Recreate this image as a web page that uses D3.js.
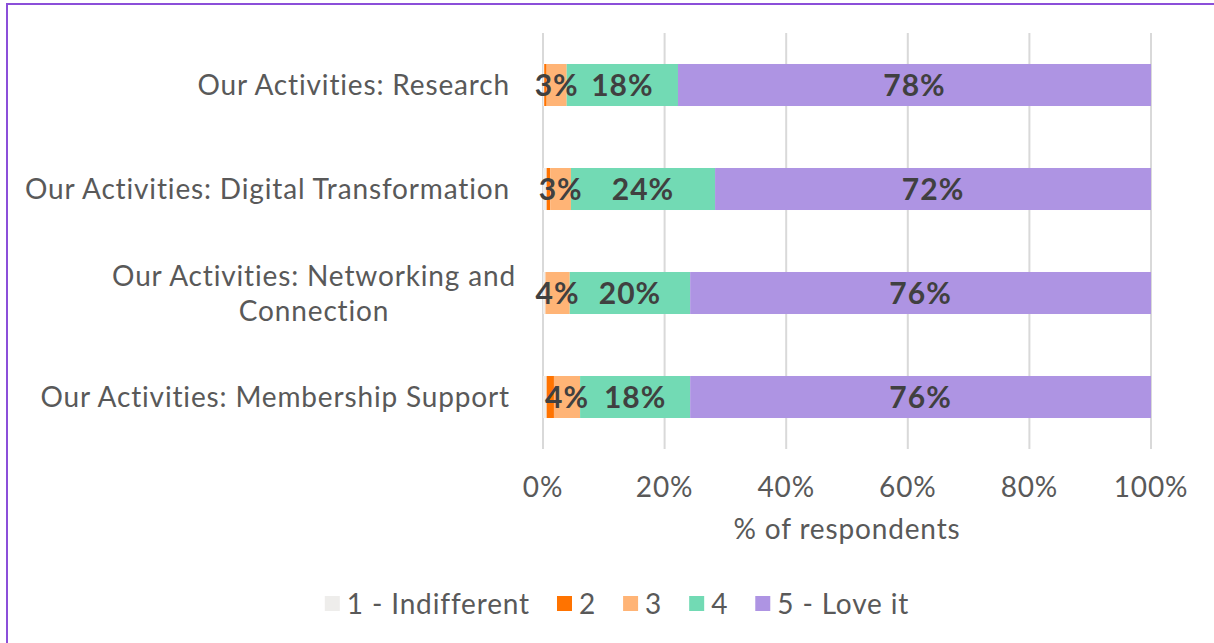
<!DOCTYPE html>
<html>
<head>
<meta charset="utf-8">
<script src="https://cdn.jsdelivr.net/npm/d3@7"></script>
<style>
  html, body { margin: 0; padding: 0; background: #fff; }
  svg { display: block; font-family: Lato, "Open Sans", sans-serif; }
</style>
</head>
<body>
<div id="chart"></div>
<script>
// categories, top to bottom
var categories = ["Our Activities: Research",
                  "Our Activities: Digital Transformation",
                  "Our Activities: Networking and\nConnection",
                  "Our Activities: Membership Support"];

// series (share of respondents, %)
var seriesNames = ["1 - Indifferent", "2", "3", "4", "5 - Love it"];
var s1 = [0.2, 0.6, 0.4, 0.6];
var s2 = [0.4, 0.6, 0.0, 1.2];
var s3 = [3.3, 3.4, 4.0, 4.3];
var s4 = [18.3, 23.7, 19.8, 18.1];
var s5 = [77.8, 71.7, 75.8, 75.8];
var colors = ["#eeedeb", "#ff7300", "#ffb476", "#72dab4", "#ae94e3"];
var labelled = [false, false, true, true, true];

var xTicks = [0, 0.2, 0.4, 0.6, 0.8, 1];

var W = 1214, H = 643;
var fs = 28, ls = "0.85px";  //text size and tracking
var svg = d3.select("#chart").append("svg")
    .attr("width", W).attr("height", H);

// frame (runs past the right and bottom edges)
svg.append("rect")
    .attr("x", 7).attr("y", 4).attr("width", W + 20).attr("height", H + 20)
    .attr("fill", "none").attr("stroke", "#8b4fd9").attr("stroke-width", 2);

var x = d3.scaleLinear().domain([0, 1]).range([543, 1151]);
var y = d3.scaleBand().domain(categories).range([33, 449])
    .paddingInner(0.596).paddingOuter(0.298);

// gridlines
svg.append("g").selectAll("line").data(xTicks).join("line")
    .attr("x1", function (d) { return x(d); })
    .attr("x2", function (d) { return x(d); })
    .attr("y1", 33).attr("y2", 449)
    .attr("stroke", "#d9d9d9").attr("stroke-width", 2);

// stack
var rows = categories.map(function (c, i) {
    return {cat: c, v: [s1[i], s2[i], s3[i], s4[i], s5[i]]};
});
var segs = [];
rows.forEach(function (r) {
    var acc = 0;
    r.v.forEach(function (v, k) {
        segs.push({cat: r.cat, k: k, v: v, x0: acc / 100, x1: (acc + v) / 100});
        acc += v;
    });
});

svg.append("g").selectAll("rect").data(segs).join("rect")
    .attr("x", function (d) { return x(d.x0); })
    .attr("width", function (d) { return x(d.x1) - x(d.x0); })
    .attr("y", function (d) { return y(d.cat); })
    .attr("height", y.bandwidth())
    .attr("fill", function (d) { return colors[d.k]; });

// data labels
svg.append("g").selectAll("text")
    .data(segs.filter(function (d) { return labelled[d.k]; }))
    .join("text")
    .attr("x", function (d) { return (x(d.x0) + x(d.x1)) / 2; })
    .attr("y", function (d) { return y(d.cat) + y.bandwidth() / 2; })
    .attr("dy", "0.36em")
    .attr("text-anchor", "middle")
    .attr("font-size", 30).attr("font-weight", "bold")
    .attr("letter-spacing", "1px")
    .attr("fill", "#404040")
    .text(function (d) { return Math.round(d.v) + "%"; });

// category labels
var lineH = 35;
categories.forEach(function (c) {
    var lines = c.split("\n");
    var cy = y(c) + y.bandwidth() / 2;
    var t = svg.append("text")
        .attr("font-size", fs).attr("letter-spacing", ls).attr("fill", "#595959");
    lines.forEach(function (ln, i) {
        t.append("tspan").attr("x", 0)
            .attr("y", cy + (i - (lines.length - 1) / 2) * lineH)
            .attr("dy", "0.36em").text(ln);
    });
    if (lines.length === 1) {
        t.attr("text-anchor", "end").selectAll("tspan").attr("x", 510);
    } else {
        var wmax = d3.max(t.selectAll("tspan").nodes(), function (n) {
            return n.getComputedTextLength(); });
        t.attr("text-anchor", "middle").selectAll("tspan")
            .attr("x", 516 - wmax / 2);
    }
});

// x axis tick labels
svg.append("g").selectAll("text").data(xTicks).join("text")
    .attr("x", function (d) { return x(d); })
    .attr("y", 487).attr("dy", "0.36em")
    .attr("text-anchor", "middle")
    .attr("font-size", fs).attr("letter-spacing", ls).attr("fill", "#595959")
    .text(function (d) { return d3.format(".0%")(d); });

svg.append("text")
    .attr("x", (x(0) + x(1)) / 2).attr("y", 529).attr("dy", "0.36em")
    .attr("text-anchor", "middle")
    .attr("font-size", fs).attr("letter-spacing", ls).attr("fill", "#595959")
    .text("% of respondents");

// legend
var lg = svg.append("g");
var lx = 0;
seriesNames.forEach(function (n, k) {
    var g = lg.append("g").attr("transform", "translate(" + lx + ",0)");
    g.append("rect").attr("x", 0).attr("y", -8).attr("width", 15).attr("height", 15)
        .attr("fill", colors[k]);
    var t = g.append("text").attr("x", 22).attr("y", 0).attr("dy", "0.36em")
        .attr("font-size", fs).attr("letter-spacing", ls).attr("fill", "#595959").text(n);
    lx += 22 + t.node().getComputedTextLength() + 27;
});
lx -= 27;
lg.attr("transform", "translate(" + (617 - lx / 2) + ",604)");
</script>
</body>
</html>
